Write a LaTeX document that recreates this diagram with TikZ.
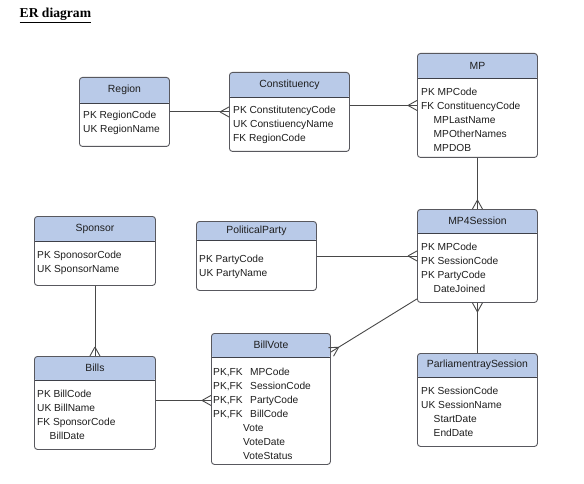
\documentclass[tikz,border=0pt]{standalone}
\usepackage{fontspec}
\setmainfont{Liberation Sans}
\newfontfamily\titlefont{Liberation Serif}
\usetikzlibrary{decorations.markings}

\definecolor{headfill}{RGB}{185,202,232}
\definecolor{edge}{RGB}{88,88,94}
\definecolor{divline}{RGB}{62,64,72}
\definecolor{ink}{RGB}{30,30,30}
\definecolor{wire}{RGB}{72,72,72}

\tikzset{
  hh/.store in=\hh, hh=25,
  entity/.style={draw=edge, line width=0.9pt, fill=white, rounded corners=3pt,
    inner sep=0pt, anchor=north west,
    path picture={
      \fill[headfill] (path picture bounding box.north west)
        rectangle ([yshift=-\hh pt]path picture bounding box.north east);
      \draw[divline, line width=1.5pt]
        ([yshift=-\hh pt]path picture bounding box.north west) --
        ([yshift=-\hh pt]path picture bounding box.north east);
    }},
  hdrtxt/.style={inner sep=0pt, text=ink, font=\fontsize{10.4}{12}\selectfont},
  rows/.style={inner sep=0pt, anchor=north west, align=left, text=ink,
    font=\fontsize{10.2}{14}\selectfont},
  rel/.style={draw=wire, line width=0.9pt},
  crow/.style={postaction={decorate, decoration={markings,
    mark=at position 1 with {\draw[wire, line width=0.9pt]
      (-9pt,0pt) -- (0pt,5pt) (-9pt,0pt) -- (0pt,-5pt);}}}}
}

% entity box: name, left, top, right, bottom, header height
\newcommand\erbox[6]{%
  \node[entity, hh=#6, minimum width={(#4)-(#2)}, minimum height={(#5)-(#3)}]
    (#1) at (#2,#3) {};}
\newcommand\ind{\hspace*{12.5pt}}

\begin{document}
\begin{tikzpicture}[x=1pt, y=-1pt]
\useasboundingbox (0,0) rectangle (584,484);

% heading
\node[anchor=base west, inner sep=0pt, font=\titlefont\bfseries\fontsize{13.6}{15}\selectfont]
  (heading) at (19.5,18) {\underline{ER diagram}};

% entities
\erbox{region}{79}{77}{169}{146}{26}
\node[hdrtxt] (region-t) at ([yshift=-13pt]region.north) {Region};
\node[rows] (region-r) at (83,111.3) {PK RegionCode\\UK RegionName};

\erbox{constituency}{229}{72}{349}{151}{25}
\node[hdrtxt] (constituency-t) at ([yshift=-12.5pt]constituency.north) {Constituency};
\node[rows] (constituency-r) at (233,106.3)
  {PK ConstitutencyCode\\UK ConstiuencyName\\FK RegionCode};

\erbox{mp}{417}{53}{537}{157}{25}
\node[hdrtxt] (mp-t) at ([yshift=-12.5pt]mp.north) {MP};
\node[rows] (mp-r) at (421,88.3)
  {PK MPCode\\FK ConstituencyCode\\\ind MPLastName\\\ind MPOtherNames\\\ind MPDOB};

\erbox{mp4}{417}{209}{537}{302}{24}
\node[hdrtxt] (mp4-t) at ([yshift=-12pt]mp4.north) {MP4Session};
\node[rows] (mp4-r) at (421,243.3)
  {PK MPCode\\PK SessionCode\\PK PartyCode\\\ind DateJoined};

\erbox{party}{196}{221}{316}{290}{19}
\node[hdrtxt] (party-t) at ([yshift=-10pt]party.north) {PoliticalParty};
\node[rows] (party-r) at (199,255.3) {PK PartyCode\\UK PartyName};

\erbox{sponsor}{34}{216}{155}{285}{25}
\node[hdrtxt] (sponsor-t) at ([yshift=-12.5pt]sponsor.north) {Sponsor};
\node[rows] (sponsor-r) at (37,251.3) {PK SponosorCode\\UK SponsorName};

\erbox{bills}{34}{356}{155}{449}{24}
\node[hdrtxt] (bills-t) at ([yshift=-12pt]bills.north) {Bills};
\node[rows] (bills-r) at (37,390.3)
  {PK BillCode\\UK BillName\\FK SponsorCode\\\ind BillDate};

\erbox{billvote}{211}{333}{330}{464}{24}
\node[hdrtxt] (billvote-t) at ([yshift=-12pt]billvote.north) {BillVote};
\node[rows] (billvote-r) at (213,368.3)
  {\makebox[37pt][l]{PK,FK}MPCode\\\makebox[37pt][l]{PK,FK}SessionCode\\
   \makebox[37pt][l]{PK,FK}PartyCode\\\makebox[37pt][l]{PK,FK}BillCode\\
   \hspace*{30pt}Vote\\\hspace*{30pt}VoteDate\\\hspace*{30pt}VoteStatus};

\erbox{psession}{417}{353}{537}{446}{24}
\node[hdrtxt] (psession-t) at ([yshift=-12pt]psession.north) {ParliamentraySession};
\node[rows] (psession-r) at (421,387.3)
  {PK SessionCode\\UK SessionName\\\ind StartDate\\\ind EndDate};

% relationships (crow's foot at the many end)
\draw[rel, crow] (region.east) -- (constituency.west);
\draw[rel, crow] (mp.west -| constituency.east) -- (mp.west);
\draw[rel, crow] (mp.south) -- (mp4.north);
\draw[rel, crow] (party.east) -- (party.east -| mp4.west);
\draw[rel, crow] (psession.north) -- (mp4.south);
\draw[rel, crow] (sponsor.south) -- (bills.north);
\draw[rel, crow] ([yshift=2.5pt]bills.east) -- ([yshift=2.5pt]bills.east -| billvote.west);
\draw[rel, crow] ([yshift=4pt]mp4.south west) -- ([yshift=-19pt]billvote.north east);
\end{tikzpicture}
\end{document}
